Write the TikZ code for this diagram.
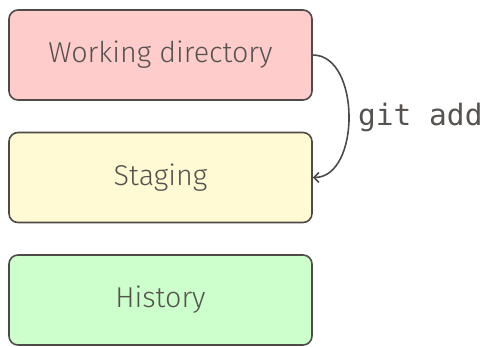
\documentclass[tikz,border=0pt]{standalone}
\usepackage{fontspec}
\setmainfont{Fira Sans Light}
\setmonofont{DejaVu Sans Mono}
\usetikzlibrary{arrows.meta}
\definecolor{edge}{HTML}{4E4A47}
\definecolor{txt}{HTML}{56524F}
\definecolor{pinkfill}{HTML}{FFCCCC}
\definecolor{yellowfill}{HTML}{FFFAD4}
\definecolor{greenfill}{HTML}{CCFFCC}
\tikzset{
  area/.style={draw=edge, line width=1.6pt, rounded corners=9pt, minimum width=303pt, minimum height=90pt, inner sep=0pt, text=txt, font=\fontsize{28.7}{33}\selectfont},
  conn/.style={draw=edge, line width=1.6pt, -{Straight Barb[length=5pt,width=10pt]}}
}
\begin{document}
\begin{tikzpicture}[x=1pt,y=-1pt]
\useasboundingbox (0,0) rectangle (485,346);
\node[area, fill=pinkfill] (wd) at (160.5,55) {Working directory};
\node[area, fill=yellowfill] (st) at (160.5,177.5) {Staging};
\node[area, fill=greenfill] (hi) at (160.5,300) {History};
\draw[conn] (wd.east) .. controls ++(48,0) and ([xshift=48pt]st.east) .. (st.east);
\node[anchor=base west, inner sep=0pt, text=txt, font=\ttfamily\fontsize{29.5}{33}\selectfont] (lbl) at (358,125) {git add};
\end{tikzpicture}
\end{document}
